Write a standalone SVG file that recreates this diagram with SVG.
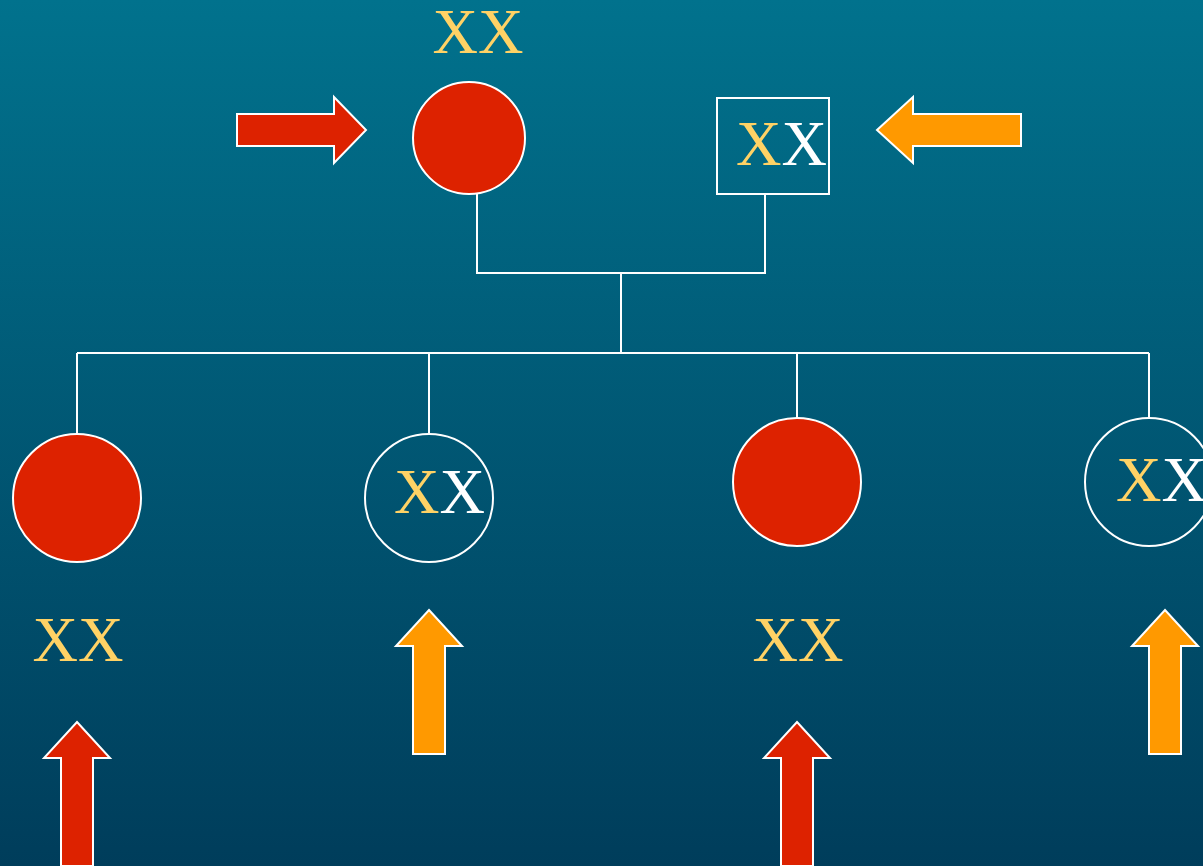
<svg xmlns="http://www.w3.org/2000/svg" width="1203" height="866" viewBox="0 0 1203 866">
<defs>
<linearGradient id="bg" x1="0" y1="0" x2="0" y2="1">
<stop offset="0" stop-color="#01728D"/>
<stop offset="1" stop-color="#003D5B"/>
</linearGradient>
</defs>
<style>
.red{fill:#DD2200;stroke:#FFFFFF;stroke-width:2}
.open{fill:none;stroke:#FFFFFF;stroke-width:2}
.ora{fill:#FF9900;stroke:#FFFFFF;stroke-width:2}
.arr{stroke:#FFFFFF;stroke-width:2;stroke-linejoin:miter}
.line{stroke:#FFFFFF;stroke-width:2;fill:none}
text{font-family:"Liberation Serif","Times New Roman",serif;font-size:63px}
.y{fill:#FFD265}
.w{fill:#FFFFFF}
</style>
<rect x="0" y="0" width="1203" height="866" fill="url(#bg)"/>
<g id="connectors">
<path class="line" d="M477 194V273H765V194M621 273V353M77 353H1149M77 353V434M429 353V434M797 353V418M1149 353V418"/>
</g>
<g id="mother">
<text class="y" x="478" y="53" text-anchor="middle">XX</text>
<circle class="red" cx="469" cy="138" r="56"/>
</g>
<g id="father">
<rect class="open" x="717" y="98" width="112" height="96"/>
<text x="736" y="165"><tspan class="y">X</tspan><tspan class="w">X</tspan></text>
</g>
<g id="child1">
<circle class="red" cx="77" cy="498" r="64"/>
<text class="y" x="78" y="661" text-anchor="middle">XX</text>
</g>
<g id="child2">
<circle class="open" cx="429" cy="498" r="64"/>
<text x="394" y="513"><tspan class="y">X</tspan><tspan class="w">X</tspan></text>
</g>
<g id="child3">
<circle class="red" cx="797" cy="482" r="64"/>
<text class="y" x="798" y="661" text-anchor="middle">XX</text>
</g>
<g id="child4">
<circle class="open" cx="1149" cy="482" r="64"/>
<text x="1116" y="501"><tspan class="y">X</tspan><tspan class="w">X</tspan></text>
</g>
<g id="arrows">
<polygon class="red" points="237,114 334,114 334,97 366,130 334,163 334,146 237,146"/>
<polygon class="ora" points="877,130 913,97 913,114 1021,114 1021,146 913,146 913,163"/>
<polygon class="ora" points="429,610 462,646 445,646 445,754 413,754 413,646 396,646"/>
<polygon class="ora" points="1165,610 1198,646 1181,646 1181,754 1149,754 1149,646 1132,646"/>
<polygon class="red" points="77,722 110,758 93,758 93,866 61,866 61,758 44,758"/>
<polygon class="red" points="797,722 830,758 813,758 813,866 781,866 781,758 764,758"/>
</g>
</svg>
